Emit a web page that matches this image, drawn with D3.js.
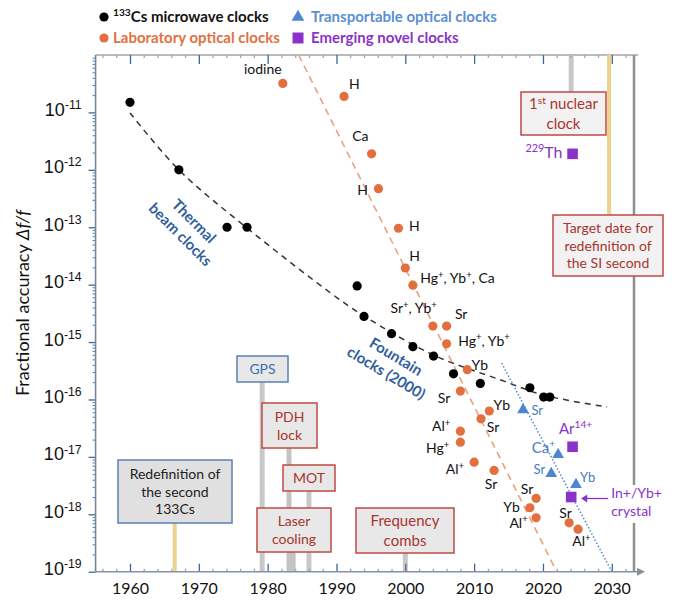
<!DOCTYPE html>
<html>
<head>
<meta charset="utf-8">
<script src="https://cdn.jsdelivr.net/npm/d3@7"></script>
<style>
  body { margin: 0; background: #fff; }
  svg { font-family: Lato, "Open Sans", sans-serif; }
</style>
</head>
<body>
<svg id="chart" width="680" height="607"></svg>
<script>
// ---- data ----
// 133Cs microwave clocks
const csYears  = [1960, 1967.1, 1974.1, 1977, 1993, 1994, 1998, 2001.1, 2004.1, 2007, 2010.9, 2018.1, 2020.1, 2021];
const csValues = [1.5e-11, 1e-12, 1e-13, 1e-13, 9.5e-15, 2.8e-15, 1.4e-15, 8.3e-16, 5.7e-16, 2.8e-16, 1.9e-16, 1.6e-16, 1.1e-16, 1.1e-16];
const csTrendYears  = [1960, 1967.1, 1977, 1990.1, 1994, 2004, 2013.8, 2020, 2029.3];
const csTrendValues = [9.8e-12, 1e-12, 9.7e-14, 5.9e-15, 2.85e-15, 6e-16, 2.2e-16, 1.2e-16, 7.4e-17];

// laboratory optical clocks
const labYears  = [1982.2, 1991.1, 1995.1, 1996.1, 1999, 2000, 2001.1, 2004, 2006, 2006, 2009, 2008,
                   2012.2, 2011, 2008, 2008, 2010, 2012.9, 2019, 2018.1, 2019, 2023.8, 2025.1];
const labValues = [3.2e-11, 1.9e-11, 1.9e-12, 4.7e-13, 9.6e-14, 1.95e-14, 9.8e-15, 1.9e-15, 1.9e-15, 9.3e-16, 3.3e-16, 1.4e-16,
                   6.3e-17, 4.6e-17, 2.8e-17, 1.8e-17, 8.1e-18, 5.8e-18, 1.9e-18, 1.3e-18, 8.7e-19, 7.1e-19, 5.5e-19];
const labNames  = ["iodine", "H", "Ca", "H", "H", "H", "Hg^{+}, Yb^{+}, Ca", "Sr^{+}, Yb^{+}", "Sr", "Hg^{+}, Yb^{+}", "Yb", "Sr",
                   "Yb", "Sr", "Al^{+}", "Hg^{+}", "Al^{+}", "Sr", "Sr", "Yb", "Al^{+}", "Sr", "Al^{+}"];
const labTrendYears  = [1984.5, 2022];
const labTrendValues = [1e-10, 1e-19];

// transportable optical clocks
const trYears  = [2017.1, 2022.2, 2021.2, 2024.8];
const trValues = [6.6e-17, 1.1e-17, 5.1e-18, 3.3e-18];
const trNames  = ["Sr", "Ca^{+}", "Sr", "Yb"];
const trTrendYears  = [2014, 2030];
const trTrendValues = [4.3e-16, 1e-19];

// emerging novel clocks
const novYears  = [2024.3, 2024.3, 2024.1];
const novValues = [1.9e-12, 1.5e-17, 2.0e-18];
const novNames  = ["^{229}Th", "Ar^{14+}", ""];

// milestones
const eventYears = [1966.5, 1979.2, 1983.1, 1983.7, 1986.0, 2000, 2024.1, 2029.6];
const eventNames = [["Redefinition of", "the second", "133Cs"], ["GPS"], ["PDH", "lock"], ["Laser", "cooling"],
                    ["MOT"], ["Frequency", "combs"], ["1^{st} nuclear", "clock"], ["Target date for", "redefinition of", "the SI second"]];

const yearTicks = [1960, 1970, 1980, 1990, 2000, 2010, 2020, 2030];
const decadeExps = [-19, -18, -17, -16, -15, -14, -13, -12, -11];

// ---- layout ----
const svg = d3.select("#chart");
const x = d3.scaleLinear().domain([1960, 2030]).range([130, 611.8]);
const y = d3.scaleLog().domain([1e-19, 1e-10]).range([571.7, 55]);
const plotLeft = x(1955), plotBottom = y(1e-19), plotTop = y(1e-10);

const BLACK = "#000", ORANGE = "#e2703f", BLUE = "#4f86d0", PURPLE = "#8a33c8";
const RED_TXT = "#a8352e", RED_BOX = "#bf4a43", BLUE_BOX = "#5b80b4", TICK = "#3f6794";

// rich text with ^{...} superscripts
function rich(sel, str, size) {
  const parts = str.split(/(\^\{[^}]*\})/).filter(p => p);
  let up = false;
  parts.forEach(p => {
    const t = sel.append("tspan");
    if (p.startsWith("^{")) {
      t.attr("font-size", size * 0.68).attr("dy", up ? 0 : -size * 0.38).text(p.slice(2, -1));
      up = true;
    } else {
      t.attr("font-size", size).attr("dy", up ? size * 0.38 : 0).text(p);
      up = false;
    }
  });
}

// ---- frame ----
svg.append("line").attr("x1", plotLeft).attr("x2", 638).attr("y1", plotTop).attr("y2", plotTop)
  .attr("stroke", "#a5a5a5").attr("stroke-width", 1.5);
svg.append("line").attr("x1", 634).attr("x2", 634).attr("y1", plotTop).attr("y2", plotBottom)
  .attr("stroke", "#8f8f8f").attr("stroke-width", 2.5);

// ---- milestone lines and boxes ----
const boxes = [
  { b: [118, 460, 232, 523], fill: "#e0e0e0", stroke: BLUE_BOX, txt: "#222", w: 4, c: "#ead38c", dir: "down", fs: 14 },
  { b: [237, 356, 288, 382], fill: "#e8e8e8", stroke: BLUE_BOX, txt: "#3d6db3", w: 5, c: "#c8c8c8", dir: "down", fs: 14 },
  { b: [262, 403, 317, 448], fill: "#e8e8e8", stroke: RED_BOX, txt: RED_TXT, w: 5, c: "#c4c4c4", dir: "down", fs: 14 },
  { b: [257, 508, 331, 552], fill: "#e8e8e8", stroke: RED_BOX, txt: RED_TXT, w: 5, c: "#c4c4c4", dir: "down", fs: 14 },
  { b: [283, 465, 335, 491], fill: "#e8e8e8", stroke: RED_BOX, txt: RED_TXT, w: 5, c: "#c8c8c8", dir: "down", fs: 14 },
  { b: [356, 508, 454, 553], fill: "#e8e8e8", stroke: RED_BOX, txt: RED_TXT, w: 5, c: "#c8c8c8", dir: "down", fs: 15 },
  { b: [521, 92, 606, 135], fill: "#f2f2f2", stroke: RED_BOX, txt: RED_TXT, w: 5, c: "#c8c8c8", dir: "up", fs: 15 },
  { b: [553, 215, 663, 276], fill: "#f2f2f2", stroke: RED_BOX, txt: RED_TXT, w: 4, c: "#ead38c", dir: "up", fs: 14 }
];

const evG = svg.append("g");
evG.selectAll("line").data(eventYears).join("line")
  .attr("x1", d => x(d)).attr("x2", d => x(d))
  .attr("y1", (d, i) => boxes[i].dir === "down" ? boxes[i].b[3] : plotTop)
  .attr("y2", (d, i) => boxes[i].dir === "down" ? plotBottom : boxes[i].b[1])
  .attr("stroke", (d, i) => boxes[i].c)
  .attr("stroke-width", (d, i) => boxes[i].w);

eventNames.forEach((lines, i) => {
  const bx = boxes[i], [x0, y0, x1, y1] = bx.b;
  evG.append("rect").attr("x", x0).attr("y", y0).attr("width", x1 - x0).attr("height", y1 - y0)
    .attr("fill", bx.fill).attr("stroke", bx.stroke).attr("stroke-width", 1.5);
  const lh = bx.fs * 1.28, cy = (y0 + y1) / 2;
  lines.forEach((ln, j) => {
    const t = evG.append("text").attr("x", (x0 + x1) / 2)
      .attr("y", cy + (j - (lines.length - 1) / 2) * lh + bx.fs * 0.36)
      .attr("text-anchor", "middle").attr("fill", bx.txt).attr("font-size", bx.fs);
    rich(t, ln, bx.fs);
  });
});

// ---- axes ----
const minorYears = d3.range(1956, 2034, 2).filter(v => v % 10 !== 0);
const majorVals = decadeExps.map(e => Math.pow(10, e));
const minorVals = [];
decadeExps.forEach(e => { for (let k = 2; k <= 9; k++) minorVals.push(k * Math.pow(10, e)); });

function styleAxis(g) {
  g.select(".domain").remove();
  g.selectAll(".tick line").attr("stroke", TICK).attr("stroke-width", 1.3);
}

// bottom
svg.append("g").attr("transform", `translate(0,${plotBottom})`)
  .call(d3.axisBottom(x).tickValues(minorYears).tickSize(-3).tickFormat(""))
  .call(g => { styleAxis(g); g.selectAll(".tick line").attr("stroke", "#9aa8bb"); });
svg.append("g").attr("transform", `translate(0,${plotBottom})`)
  .call(d3.axisBottom(x).tickValues(yearTicks).tickSize(-8).tickPadding(11).tickFormat(d3.format("d")))
  .call(styleAxis)
  .call(g => g.selectAll("text").attr("font-size", 16).attr("fill", "#111").attr("font-family", "Lato, sans-serif"));
// top
svg.append("g").attr("transform", `translate(0,${plotTop})`)
  .call(d3.axisTop(x).tickValues(minorYears).tickSize(-3).tickFormat(""))
  .call(g => { styleAxis(g); g.selectAll(".tick line").attr("stroke", "#9aa8bb"); });
svg.append("g").attr("transform", `translate(0,${plotTop})`)
  .call(d3.axisTop(x).tickValues(yearTicks).tickSize(-9).tickFormat(""))
  .call(styleAxis);
// left
svg.append("g").attr("transform", `translate(${plotLeft},0)`)
  .call(d3.axisLeft(y).tickValues(minorVals).tickSize(3).tickFormat(""))
  .call(g => { styleAxis(g); g.selectAll(".tick line").attr("stroke", "#5f7fa6").attr("stroke-width", 1); });
const yAx = svg.append("g").attr("transform", `translate(${plotLeft},0)`)
  .call(d3.axisLeft(y).tickValues(majorVals).tickSize(7).tickFormat(""))
  .call(styleAxis);
yAx.selectAll(".tick").append("text")
  .attr("x", -14).attr("y", 3).attr("text-anchor", "end").attr("fill", "#111")
  .each(function (d) {
    const t = d3.select(this);
    rich(t, "10^{" + Math.round(Math.log10(d)) + "}", 18);
  });

// axis lines
svg.append("line").attr("x1", plotLeft).attr("x2", plotLeft).attr("y1", plotTop).attr("y2", plotBottom)
  .attr("stroke", "#6f86a6").attr("stroke-width", 1.6);
svg.append("line").attr("x1", plotLeft).attr("x2", 638).attr("y1", plotBottom).attr("y2", plotBottom)
  .attr("stroke", "#8192aa").attr("stroke-width", 1.6);
svg.append("path").attr("d", `M637,${plotBottom - 4}L645,${plotBottom}L637,${plotBottom + 4}Z`).attr("fill", "#8a8f98");

svg.append("text")
  .attr("transform", "translate(29,303) rotate(-90)")
  .attr("text-anchor", "middle").attr("font-size", 18).attr("fill", "#111")
  .call(t => {
    t.append("tspan").text("Fractional accuracy ");
    t.append("tspan").attr("font-style", "italic").text("\u0394f/f");
  });

// ---- trend lines ----
const line = d3.line().x(d => x(d[0])).y(d => y(d[1]));
svg.append("path").datum(d3.zip(csTrendYears, csTrendValues))
  .attr("d", d3.line().x(d => x(d[0])).y(d => y(d[1])).curve(d3.curveCatmullRom)).attr("fill", "none")
  .attr("stroke", "#333").attr("stroke-width", 1.5).attr("stroke-dasharray", "6,5");
svg.append("path").datum(d3.zip(labTrendYears, labTrendValues))
  .attr("d", line).attr("fill", "none")
  .attr("stroke", "#e9a27e").attr("stroke-width", 1.6).attr("stroke-dasharray", "7,5");
svg.append("path").datum(d3.zip(trTrendYears, trTrendValues))
  .attr("d", line).attr("fill", "none")
  .attr("stroke", "#4f8ad4").attr("stroke-width", 1.5).attr("stroke-dasharray", "1.5,2");

// ---- group labels ----
const grp = [
  { t: ["Thermal", "beam clocks"], x: 187, y: 228, r: 45 },
  { t: ["Fountain", "clocks (2000)"], x: 391, y: 365, r: 31 }
];
grp.forEach(g => {
  const t = svg.append("text").attr("transform", `translate(${g.x},${g.y}) rotate(${g.r})`)
    .attr("text-anchor", "middle").attr("font-size", 15).attr("font-weight", 700).attr("fill", "#2f5e9c");
  g.t.forEach((s, j) => t.append("tspan").attr("x", 0).attr("y", (j - 0.5) * 19 + 5).text(s));
});

// ---- markers ----
svg.append("g").selectAll("circle").data(d3.zip(csYears, csValues)).join("circle")
  .attr("cx", d => x(d[0])).attr("cy", d => y(d[1])).attr("r", 4.6).attr("fill", BLACK);

svg.append("g").selectAll("circle").data(d3.zip(labYears, labValues)).join("circle")
  .attr("cx", d => x(d[0])).attr("cy", d => y(d[1])).attr("r", 4.6).attr("fill", ORANGE);

const tri = d3.symbol().type(d3.symbolTriangle).size(60);
svg.append("g").selectAll("path").data(d3.zip(trYears, trValues)).join("path")
  .attr("transform", d => `translate(${x(d[0])},${y(d[1])})`).attr("d", tri).attr("fill", BLUE);

svg.append("g").selectAll("rect").data(d3.zip(novYears, novValues)).join("rect")
  .attr("x", d => x(d[0]) - 5.3).attr("y", d => y(d[1]) - 5.3)
  .attr("width", 10.6).attr("height", 10.6).attr("fill", PURPLE);

// ---- point labels ----
const labOff = [[-20, -9, "middle"], [5, -7, "start"], [-3, -12.6, "end"], [-10.6, 6, "end"], [10.6, 2.4, "start"],
  [4, -6.6, "start"], [7.3, -2, "start"], [4, -12.7, "end"], [8.3, -7, "start"], [11.6, 1.7, "start"], [4.3, 0, "start"],
  [-10, 12, "end"], [4.3, -0.5, "start"], [5.7, 12.7, "start"], [-10, 0, "end"], [-11, 11, "end"], [-10, 12, "end"],
  [-3, 19, "middle"], [-2.7, -4.7, "end"], [-10, 4, "end"], [-8.4, 10, "end"], [-3.6, -4.7, "middle"], [3.4, 17, "middle"]];
const trOff = [[8.4, 5.5, "start", 13], [-3, -2, "end", 15], [-6, 0.7, "end", 13], [4, -3, "start", 13]];
const novOff = [[-10, 4, "end", 16], [3, -12.7, "middle", 15]];

function putLabels(years, vals, names, offs, color, fs) {
  names.forEach((n, i) => {
    if (!n) return;
    const o = offs[i], size = o[3] || fs;
    const t = svg.append("text").attr("x", x(years[i]) + o[0]).attr("y", y(vals[i]) + o[1])
      .attr("text-anchor", o[2]).attr("fill", color).attr("font-size", size);
    rich(t, n, size);
  });
}
putLabels(labYears, labValues, labNames, labOff, "#111", 14);
putLabels(trYears, trValues, trNames, trOff, "#4a7cc0", 13);
putLabels(novYears, novValues, novNames, novOff, PURPLE, 15);

// In+/Yb+ crystal callout
const cx0 = x(novYears[2]), cy0 = y(novValues[2]);
svg.append("rect").attr("x", cx0 + 39).attr("y", cy0 - 12).attr("width", 50).attr("height", 38).attr("fill", "#fff");
svg.append("line").attr("x1", cx0 + 37).attr("x2", cx0 + 14).attr("y1", cy0 + 1.5).attr("y2", cy0 + 1.5)
  .attr("stroke", PURPLE).attr("stroke-width", 1.3);
svg.append("path").attr("d", `M${cx0 + 10},${cy0 + 1.5}l6,-4l0,8Z`).attr("fill", PURPLE);
svg.append("text").attr("x", cx0 + 40).attr("y", cy0 + 0.5).attr("fill", PURPLE).attr("font-size", 14)
  .call(t => {
    t.append("tspan").text("In+/Yb+");
    t.append("tspan").attr("x", cx0 + 40).attr("dy", 18.5).text("crystal");
  });

// ---- legend ----
const lg = svg.append("g").attr("font-size", 15).attr("font-weight", 700);
lg.append("circle").attr("cx", 104).attr("cy", 17).attr("r", 4.6).attr("fill", BLACK);
lg.append("text").attr("x", 113).attr("y", 22).attr("fill", "#111").call(t => rich(t, "^{133}Cs microwave clocks", 15));
lg.append("circle").attr("cx", 104).attr("cy", 38).attr("r", 4.6).attr("fill", ORANGE);
lg.append("text").attr("x", 113).attr("y", 43).attr("fill", ORANGE).text("Laboratory optical clocks");
lg.append("path").attr("transform", "translate(298,17)").attr("d", d3.symbol().type(d3.symbolTriangle).size(70)).attr("fill", BLUE);
lg.append("text").attr("x", 311).attr("y", 22).attr("fill", "#5a8fd4").text("Transportable optical clocks");
lg.append("rect").attr("x", 292.5).attr("y", 32.5).attr("width", 11).attr("height", 11).attr("fill", PURPLE);
lg.append("text").attr("x", 311).attr("y", 43).attr("fill", PURPLE).text("Emerging novel clocks");
</script>
</body>
</html>
